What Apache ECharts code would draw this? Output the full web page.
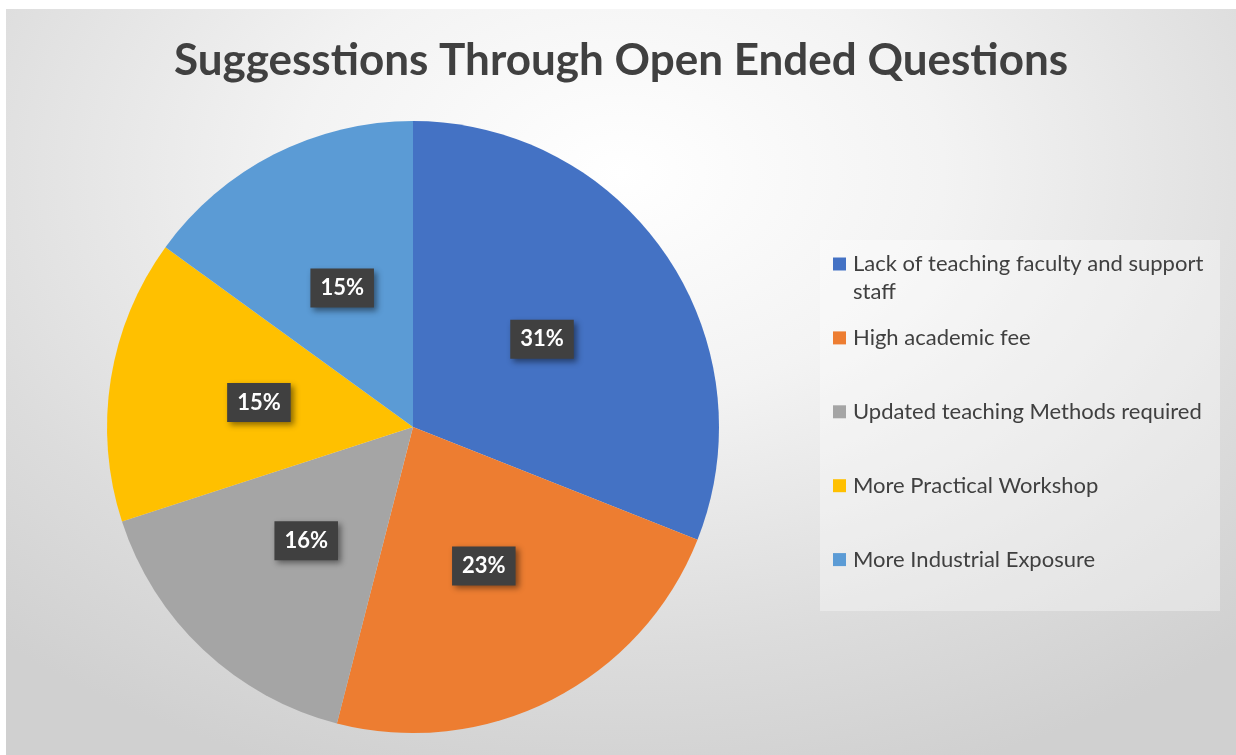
<!DOCTYPE html>
<html>
<head>
<meta charset="utf-8">
<script src="https://cdn.jsdelivr.net/npm/echarts@6/dist/echarts.min.js"></script>
<style>
    html, body { margin: 0; padding: 0; background: #ffffff; }
    #chart {
        position: absolute;
        left: 6px;
        top: 9px;
        width: 1230px;
        height: 746px;
        background: radial-gradient(ellipse 75% 85% at 50% 22%, #ffffff 0%, #f3f3f3 35%, #dcdcdc 75%, #d0d0d0 100%);
    }
</style>
</head>
<body>
<div id="chart"></div>
<script>
// 类别和数值
const categories = [
    "Lack of teaching faculty and support staff",
    "High academic fee",
    "Updated teaching Methods required",
    "More Practical Workshop",
    "More Industrial Exposure"
];
const values = [31, 23, 16, 15, 15];
const colors = ["#4472C4", "#ED7D31", "#A5A5A5", "#FFC000", "#5B9BD5"];

const textColor = "#404040";
const fontFamily = "Lato, 'Open Sans', sans-serif";
const lineH = 28;

const myChart = echarts.init(document.getElementById("chart"));

// 每个图例项单独一个legend，方便对齐
const legends = [];
for (let i = 0; i < categories.length; i++) {
    const iconCenter = 255 + i * 73.9;
    const first = i === 0;
    legends.push({
        data: [categories[i]],
        orient: "vertical",
        left: 827,
        // 第一项有三行（首行为空），图标对齐第二行
        top: first ? iconCenter - lineH * 1.5 : iconCenter - lineH / 2,
        padding: 0,
        itemWidth: 13,
        itemHeight: 13,
        itemGap: 0,
        icon: "rect",
        formatter: function (name) {
            if (name.indexOf(" staff") > 0) {
                return " \n" + name.replace(" staff", "\nstaff");
            }
            return name;
        },
        textStyle: {
            color: textColor,
            fontFamily: fontFamily,
            fontSize: 22,
            lineHeight: lineH,
            padding: [0, 0, 0, 2]
        }
    });
}

const option = {
    color: colors,
    title: {
        text: "Suggesstions Through Open Ended Questions",
        left: "center",
        top: 25,
        textStyle: {
            color: textColor,
            fontFamily: fontFamily,
            fontWeight: "bold",
            fontSize: 44
        }
    },
    graphic: [
        {
            type: "rect",
            left: 814,
            top: 231,
            shape: { width: 400, height: 371 },
            style: { fill: "rgba(255,255,255,0.35)" },
            z: -1
        }
    ],
    legend: legends,
    series: [
        {
            type: "pie",
            center: [407, 418],
            radius: 306,
            startAngle: 90,
            clockwise: true,
            animation: false,
            label: {
                position: "inside",
                formatter: function (p) {
                    return p.value + "%";
                },
                color: "#ffffff",
                fontFamily: fontFamily,
                fontWeight: "bold",
                fontSize: 22,
                backgroundColor: "#404040",
                padding: [9, 10, 8, 10],
                shadowColor: "rgba(0,0,0,0.45)",
                shadowBlur: 6,
                shadowOffsetX: 3,
                shadowOffsetY: 3
            },
            labelLine: { show: false },
            emphasis: { disabled: true },
            data: categories.map(function (c, i) {
                return { name: c, value: values[i] };
            })
        }
    ]
};

myChart.setOption(option, true);
</script>
</body>
</html>
